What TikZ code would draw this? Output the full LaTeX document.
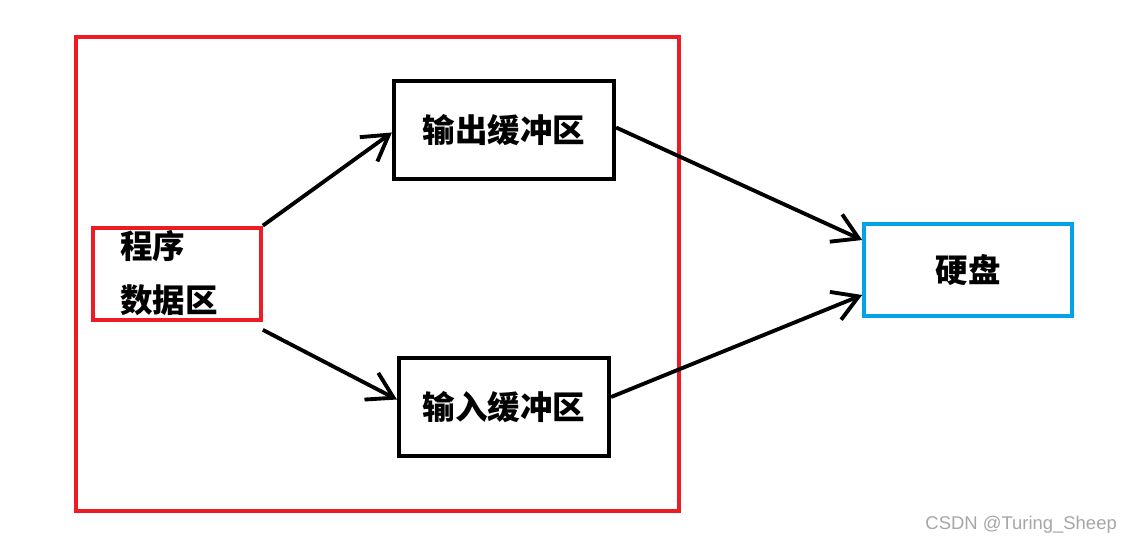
\documentclass[tikz,border=0pt]{standalone}
\usepackage{fontspec}
\newfontfamily\cjk{Noto Sans CJK SC}
\setsansfont{Liberation Sans}
\usetikzlibrary{arrows.meta}
\definecolor{boxred}{RGB}{237,28,36}
\definecolor{boxblue}{RGB}{0,162,232}
\begin{document}
\begin{tikzpicture}[x=0.02cm,y=-0.02cm, every node/.style={font=\cjk\bfseries\fontsize{18.5}{22}\selectfont},
  bufbox/.style={draw=black, line width=2.4pt, minimum width=4.4cm, minimum height=1.95cm},
  flow/.style={line width=2.2pt, -{Straight Barb[length=5mm,width=6mm]}}]
  \useasboundingbox (0,0) rectangle (1137,544);
  % outer frame
  \draw[boxred, line width=2.4pt] (76,37) rectangle (679,511);
  % boxes
  \node[draw=boxred, line width=2.4pt, minimum width=3.35cm, minimum height=1.85cm] (prog) at (177,274) {};
  \node[anchor=west] (progtxt) at (114,277) {\begin{tabular}{@{}l@{}}程序\\[3mm]数据区\end{tabular}};
  \node[bufbox] (outbuf) at (504,130) {输出缓冲区};
  \node[bufbox, minimum width=4.2cm] (inbuf) at (504,407) {输入缓冲区};
  \node[draw=boxblue, line width=2.4pt, minimum width=4.15cm, minimum height=1.85cm] (disk) at (968,270) {硬盘};
  % arrows
  \draw[flow] (prog.north east) -- ([yshift=-0.05cm]outbuf.west);
  \draw[flow] ([yshift=-0.15cm]prog.south east) -- ([yshift=0.15cm]inbuf.west);
  \draw[flow] ([yshift=0.05cm]outbuf.east) -- ([yshift=0.6cm]disk.west);
  \draw[flow] ([yshift=0.2cm]inbuf.east) -- ([yshift=-0.5cm]disk.west);
  % watermark
  \node[font=\sffamily\fontsize{10.5}{12}\selectfont, text=gray!70, anchor=east] (mark) at (1123,525) {CSDN @Turing\_Sheep};
\end{tikzpicture}
\end{document}
